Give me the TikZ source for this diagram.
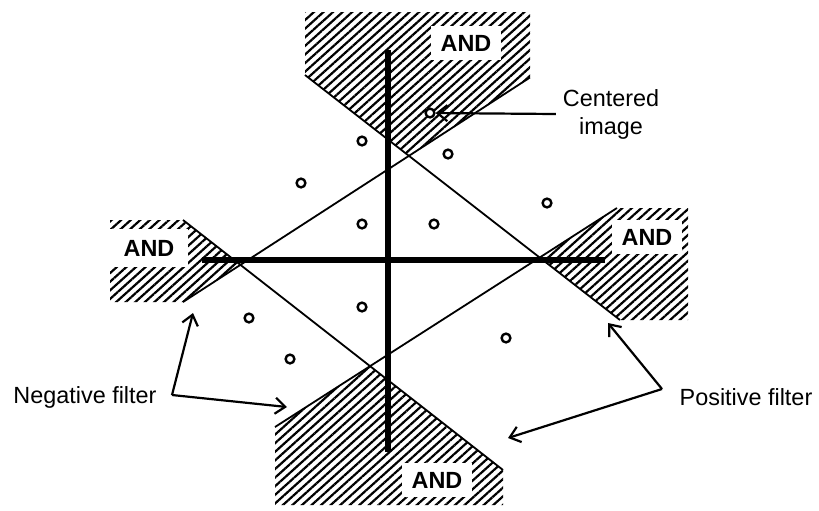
\documentclass[tikz,border=0pt]{standalone}
\usepackage{fontspec}
\setmainfont{Liberation Sans}
\usetikzlibrary{patterns.meta,arrows.meta}

\begin{document}
\begin{tikzpicture}[x=0.5pt,y=-0.5pt,
  hatch/.style={pattern={Lines[angle=42,distance=3.2pt,line width=1.1pt]}},
  axis/.style={line width=3pt},
  edge/.style={line width=0.9pt},
  arr/.style={line width=1.1pt,-{Straight Barb[length=5pt,width=8pt]}},
  dot/.style={circle,draw,line width=1.2pt,minimum size=4.4pt,inner sep=0pt,fill=white},
  andbox/.style={fill=white,font=\bfseries\fontsize{11.7pt}{14pt}\selectfont,
    inner sep=0pt,minimum width=35pt,minimum height=17pt},
  lbl/.style={font=\fontsize{11.7pt}{14pt}\selectfont,align=center}]
\useasboundingbox (0,0) rectangle (819,510);

% End points of the four filter edges
\coordinate (a1) at (305,75);   \coordinate (a2) at (620,320);
\coordinate (b1) at (183,220);  \coordinate (b2) at (503,470);
\coordinate (c1) at (530,77.5); \coordinate (c2) at (183,302);
\coordinate (d1) at (617,208);  \coordinate (d2) at (275,427);

% Corners where the edges cross
\coordinate (top) at (intersection of a1--a2 and c1--c2);
\coordinate (left) at (intersection of b1--b2 and c1--c2);
\coordinate (right) at (intersection of a1--a2 and d1--d2);
\coordinate (bottom) at (intersection of b1--b2 and d1--d2);

% Hatched AND regions
\fill[hatch] (305,12) -- (530,12) -- (c1) -- (top) -- (a1) -- cycle;
\fill[hatch] (110,220) -- (b1) -- (left) -- (c2) -- (110,302) -- cycle;
\fill[hatch] (d1) -- (688,208) -- (688,320) -- (a2) -- (right) -- cycle;
\fill[hatch] (d2) -- (bottom) -- (b2) -- (503,505) -- (275,505) -- cycle;

% AND labels
\node[andbox] (andT) at (466,43) {AND};
\node[andbox,minimum width=39pt,minimum height=19pt] (andL) at (149,248) {AND};
\node[andbox] (andR) at (647,237) {AND};
\node[andbox] (andB) at (437,480) {AND};

% Filter edges
\draw[edge] (a1) -- (a2);
\draw[edge] (b1) -- (b2);
\draw[edge] (c1) -- (c2);
\draw[edge] (d1) -- (d2);

% Axes
\draw[axis] (388,50) -- (388,452);
\draw[axis] (202,260) -- (605,260);

% Sample points
\foreach \x/\y [count=\i] in {362/141, 448/154, 301/183, 547/203, 362/224,
  434/224, 362/307, 249/318, 506/338, 290/359}
  \node[dot] (p\i) at (\x,\y) {};

% Centered image
\node[dot] (cimg) at (430,113) {};
\node[lbl] (clbl) at (611,114) {Centered\\image};
\draw[arr] (clbl.west) -- (cimg);

% Negative filter
\node[lbl] (neg) at (85,397) {Negative filter};
\coordinate (negv) at (172,395);
\coordinate (neg1) at (193,313);
\coordinate (neg2) at (287,407);
\draw[arr] (negv) -- (neg1);
\draw[arr] (negv) -- (neg2);

% Positive filter
\node[lbl] (pos) at (746,397) {Positive filter};
\coordinate (posv) at (662,389);
\coordinate (pos1) at (608,323);
\coordinate (pos2) at (508,438);
\draw[arr] (posv) -- (pos1);
\draw[arr] (posv) -- (pos2);
\end{tikzpicture}
\end{document}
